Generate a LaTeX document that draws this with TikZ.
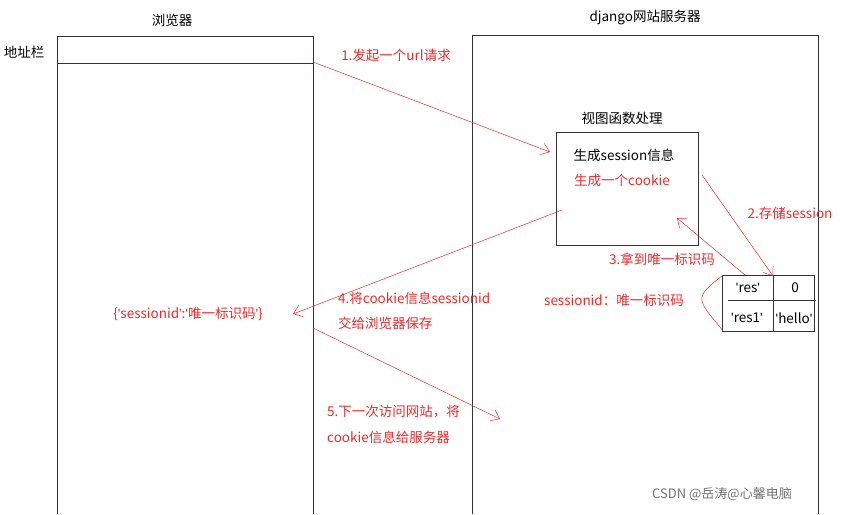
\documentclass[tikz,border=0pt]{standalone}
\usepackage{fontspec}
\setmainfont{Noto Sans CJK SC}
\newfontfamily\latf{Liberation Sans}[Ligatures=ResetAll]
\newcommand{\sq}{{\latf\char"27}}
\usetikzlibrary{arrows.meta}
\definecolor{rd}{RGB}{240,40,40}
\begin{document}
\begin{tikzpicture}[x=1pt,y=-1pt,
  lbl/.style={font=\fontsize{13.5}{16}\selectfont, inner sep=1pt},
  rlbl/.style={lbl, text=rd},
  arr/.style={rd, line width=0.5pt, -{Straight Barb[length=8pt,width=12pt,line width=0.5pt]}},
  box/.style={draw=black!80, line width=0.8pt}]
\useasboundingbox (0,0) rectangle (842,514);
\fill[white] (0,0) rectangle (842,514);
% browser
\draw[box] (57,514) -- (57,36) -- (313,36) -- (313,514);
\draw[box] (57,63) -- (313,63);
\node[lbl] (tb) at (172,20) {浏览器};
\node[lbl] (addr) at (24,52) {地址栏};
% server
\draw[box] (472,514) -- (472,35) -- (818,35) -- (818,514);
\node[lbl] (ts) at (645,18) {django网站服务器};
% view box
\node[box, minimum width=142, minimum height=113, anchor=north west, inner sep=0] (view) at (556,132) {};
\node[lbl] (vt) at (622,118) {视图函数处理};
\node[lbl] (g1) at (624,155) {生成session信息};
\node[rlbl] (g2) at (622,180) {生成一个cookie};
% table
\draw[box] (722,275) rectangle (814,331);
\draw[box] (773,275) -- (773,331);
\draw[box] (728,300) -- (816,300);
\node[lbl] (r1) at (748,288) {\sq res\sq};
\node[lbl] (r2) at (795,288) {0};
\node[lbl] (r3) at (747,318) {\sq res1\sq};
\node[lbl] (r4) at (794,318) {\sq hello\sq};
\draw[rd, line width=0.5pt] (723,275) .. controls (712,284) and (700,292) .. (702,301) .. controls (704,310) and (715,320) .. (723,331);
\node[rlbl] (sid) at (614,300) {sessionid：唯一标识码};
% arrows
\coordinate (a1s) at (313,62); \coordinate (a1e) at (550,152);
\draw[arr] (a1s) -- (a1e);
\node[rlbl] (l1) at (396,55) {1.发起一个url请求};
\coordinate (a2s) at (702,175); \coordinate (a2e) at (773,276);
\draw[arr] (a2s) -- (a2e);
\node[rlbl] (l2) at (790,213) {2.存储session};
\coordinate (a3s) at (745,275); \coordinate (a3e) at (677,218);
\draw[arr] (a3s) -- (a3e);
\node[rlbl] (l3) at (662,259) {3.拿到唯一标识码};
\coordinate (a4s) at (562,210); \coordinate (a4e) at (293,314);
\draw[arr] (a4s) -- (a4e);
\node[rlbl, anchor=west] (l4a) at (337,298) {4.将cookie信息sessionid};
\node[rlbl, anchor=west] (l4b) at (337,323) {交给浏览器保存};
\coordinate (a5s) at (313,328); \coordinate (a5e) at (500,419);
\draw[arr] (a5s) -- (a5e);
\node[rlbl, anchor=west] (l5a) at (326,412) {5.下一次访问网站，将};
\node[rlbl, anchor=west] (l5b) at (326,437) {cookie信息给服务器};
\node[rlbl] (cook) at (188,314) {\{\sq sessionid\sq:\sq 唯一标识码\sq\}};
\node[lbl, text=black!55, font=\fontsize{13}{15}\selectfont] (wm) at (722,494) {CSDN @岳涛@心馨电脑};
\end{tikzpicture}
\end{document}
